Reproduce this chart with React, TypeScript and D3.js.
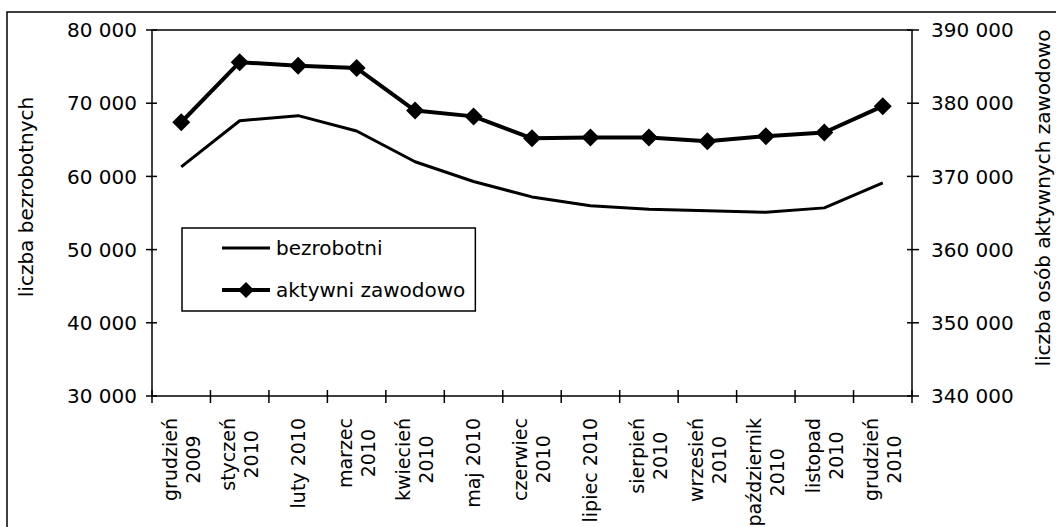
import React, { useEffect, useRef } from 'react';
import * as d3 from 'd3';

// month labels (split into lines as on the original axis)
const categories: string[][] = [
  ['grudzień', '2009'],
  ['styczeń', '2010'],
  ['luty 2010'],
  ['marzec', '2010'],
  ['kwiecień', '2010'],
  ['maj 2010'],
  ['czerwiec', '2010'],
  ['lipiec 2010'],
  ['sierpień', '2010'],
  ['wrzesień', '2010'],
  ['październik', '2010'],
  ['listopad', '2010'],
  ['grudzień', '2010'],
];

// left axis series
const bezrobotni = [61300, 67600, 68300, 66200, 62000, 59300, 57200, 56000, 55500, 55300, 55100, 55700, 59100];
// right axis series
const aktywni = [377400, 385600, 385100, 384800, 379000, 378200, 375200, 375300, 375300, 374800, 375500, 376000, 379600];

const leftTicks = [30000, 40000, 50000, 60000, 70000, 80000];
const rightTicks = [340000, 350000, 360000, 370000, 380000, 390000];

const seriesNames = ['bezrobotni', 'aktywni zawodowo'];
const leftTitle = 'liczba bezrobotnych';
const rightTitle = 'liczba osób aktywnych zawodowo';

const W = 1056;
const H = 527;
const FONT = '"DejaVu Sans", Verdana, sans-serif';

const fmt = (v: number) => d3.format(',')(v).replace(/,/g, ' ');

const Chart: React.FC = () => {
  const svgRef = useRef<SVGSVGElement>(null);

  useEffect(() => {
    if (!svgRef.current) return;
    const svg = d3.select(svgRef.current);
    svg.selectAll('*').remove();

    const left = 152, right = 912, top = 30, bottom = 396;
    const keys = categories.map(c => c.join(' '));

    const x = d3.scaleBand<string>().domain(keys).range([left, right]).padding(0);
    const yL = d3.scaleLinear().domain([30000, 80000]).range([bottom, top]);
    const yR = d3.scaleLinear().domain([340000, 390000]).range([bottom, top]);
    const cx = (i: number) => (x(keys[i]) as number) + x.bandwidth() / 2;

    // outer frame
    svg.append('path')
      .attr('d', `M7,${H} L7,12 L${W},12`)
      .attr('fill', 'none').attr('stroke', '#000').attr('stroke-width', 1.5);

    // plot area border
    svg.append('rect')
      .attr('x', left).attr('y', top)
      .attr('width', right - left).attr('height', bottom - top)
      .attr('fill', 'none').attr('stroke', '#000').attr('stroke-width', 1.5);

    // left ticks
    const gL = svg.append('g');
    leftTicks.forEach(t => {
      gL.append('line').attr('x1', left - 6).attr('x2', left + 5)
        .attr('y1', yL(t)).attr('y2', yL(t)).attr('stroke', '#000').attr('stroke-width', 1.5);
      gL.append('text').attr('x', 137).attr('y', yL(t)).attr('dy', '0.36em')
        .attr('text-anchor', 'end').attr('font-family', FONT).attr('font-size', 20)
        .text(fmt(t));
    });

    // right ticks
    const gR = svg.append('g');
    rightTicks.forEach(t => {
      gR.append('line').attr('x1', right - 5).attr('x2', right + 7)
        .attr('y1', yR(t)).attr('y2', yR(t)).attr('stroke', '#000').attr('stroke-width', 1.5);
      gR.append('text').attr('x', 931).attr('y', yR(t)).attr('dy', '0.36em')
        .attr('text-anchor', 'start').attr('font-family', FONT).attr('font-size', 20)
        .text(fmt(t));
    });

    // x ticks at band boundaries
    const gX = svg.append('g');
    d3.range(keys.length + 1).forEach(i => {
      const xx = left + i * x.bandwidth();
      gX.append('line').attr('x1', xx).attr('x2', xx)
        .attr('y1', bottom - 6).attr('y2', bottom + 7)
        .attr('stroke', '#000').attr('stroke-width', 1.5);
    });

    // x labels, rotated, block top at ~418
    const labelTop = 418;
    const lh = 23;
    categories.forEach((lines, i) => {
      const g = gX.append('g').attr('transform', `translate(${cx(i)},${labelTop}) rotate(-90)`);
      const texts = lines.map((ln, j) =>
        g.append('text')
          .attr('y', (j - (lines.length - 1) / 2) * lh)
          .attr('dy', '0.36em')
          .attr('text-anchor', 'middle')
          .attr('font-family', FONT).attr('font-size', 19)
          .text(ln)
      );
      const maxLen = d3.max(texts, t => (t.node() as SVGTextElement).getComputedTextLength()) || 0;
      texts.forEach(t => t.attr('x', -maxLen / 2));
    });

    // axis titles
    svg.append('text')
      .attr('transform', `translate(33,197) rotate(-90)`)
      .attr('text-anchor', 'middle').attr('font-family', FONT).attr('font-size', 20)
      .text(leftTitle);
    svg.append('text')
      .attr('transform', `translate(1050,198) rotate(-90)`)
      .attr('text-anchor', 'middle').attr('font-family', FONT).attr('font-size', 20)
      .text(rightTitle);

    // lines
    const lineL = d3.line<number>().x((_, i) => cx(i)).y(d => yL(d));
    const lineR = d3.line<number>().x((_, i) => cx(i)).y(d => yR(d));

    svg.append('path').attr('d', lineL(bezrobotni) as string)
      .attr('fill', 'none').attr('stroke', '#000').attr('stroke-width', 3)
      .attr('stroke-linejoin', 'round');
    svg.append('path').attr('d', lineR(aktywni) as string)
      .attr('fill', 'none').attr('stroke', '#000').attr('stroke-width', 4)
      .attr('stroke-linejoin', 'round');

    const diamond = d3.symbol().type(d3.symbolSquare).size(162);
    svg.append('g').selectAll('path')
      .data(aktywni)
      .enter()
      .append('path')
      .attr('d', diamond as any)
      .attr('transform', (d, i) => `translate(${cx(i)},${yR(d)}) rotate(45)`)
      .attr('fill', '#000');

    // legend
    const lg = svg.append('g');
    const lx = 182, ly = 228;
    const items = lg.selectAll('g.item')
      .data(seriesNames)
      .enter()
      .append('g')
      .attr('class', 'item')
      .attr('transform', (d, i) => `translate(0,${248 + i * 42})`);
    items.append('line')
      .attr('x1', 222).attr('x2', 270).attr('y1', 0).attr('y2', 0)
      .attr('stroke', '#000').attr('stroke-width', (d, i) => (i === 0 ? 3 : 4));
    items.filter((d, i) => i === 1).append('path')
      .attr('d', d3.symbol().type(d3.symbolSquare).size(130)() as string)
      .attr('transform', 'translate(246,0) rotate(45)')
      .attr('fill', '#000');
    const lt = items.append('text')
      .attr('x', 276).attr('y', 0).attr('dy', '0.36em')
      .attr('font-family', FONT).attr('font-size', 20)
      .text(d => d);
    const tw = d3.max(lt.nodes(), n => (n as SVGTextElement).getComputedTextLength()) || 0;
    lg.insert('rect', ':first-child')
      .attr('x', lx).attr('y', ly)
      .attr('width', 276 + tw + 10 - lx).attr('height', 311 - ly)
      .attr('fill', '#fff').attr('stroke', '#000').attr('stroke-width', 1.5);
  }, []);

  return <svg ref={svgRef} width={W} height={H} style={{ display: 'block' }} />;
};

export default function App() {
  return (
    <div style={{ position: 'absolute', left: 0, top: 0, width: W, height: H, background: '#fff' }}>
      <Chart />
    </div>
  );
}
